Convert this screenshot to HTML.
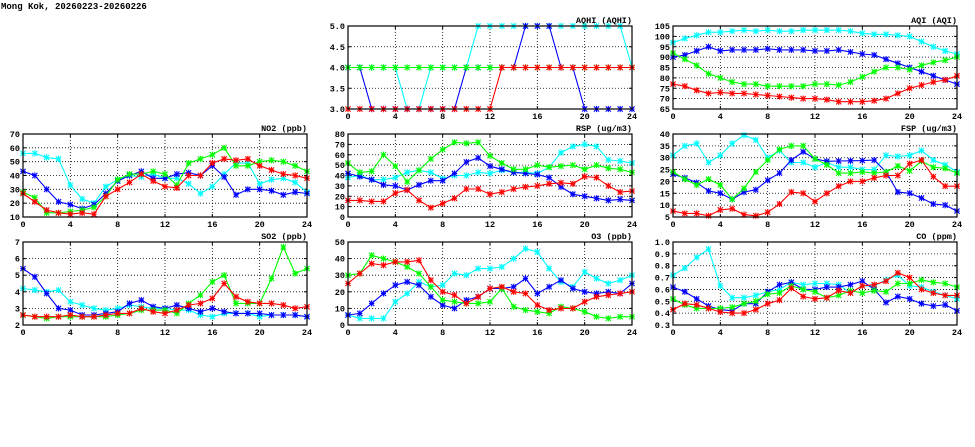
<!DOCTYPE html>
<html><head><meta charset="utf-8">
<style>
html,body{margin:0;padding:0;background:#fff;}
svg{display:block;}
text{font-family:"Liberation Mono",monospace;}
</style></head>
<body>
<svg id="s" width="975" height="447" xmlns="http://www.w3.org/2000/svg">
<text x="1" y="9" font-size="9" font-weight="bold" fill="#000">Mong Kok, 20260223-20260226</text>
</svg>
<script>
var S=document.getElementById('s');
var NS='http://www.w3.org/2000/svg';
function el(t,a,txt){var e=document.createElementNS(NS,t);for(var k in a)e.setAttribute(k,a[k]);if(txt!=null)e.textContent=txt;S.appendChild(e);return e;}
var C=['#00ffff','#0000ff','#00ff00','#ff0000'];
var panels=[
{x:348,y:26,w:284,h:83,min:3,max:5,step:0.5,dec:1,title:'AQHI (AQHI)',d:[
[4,4,4,4,4,3,3,4,4,4,4,5,5,5,5,5,5,5,5,5,5,5,5,5,4],
[4,4,3,3,3,3,3,3,3,3,4,4,4,4,4,5,5,5,4,4,3,3,3,3,3],
[4,4,4,4,4,4,4,4,4,4,4,4,4,4,4,4,4,4,4,4,4,4,4,4,4],
[3,3,3,3,3,3,3,3,3,3,3,3,3,4,4,4,4,4,4,4,4,4,4,4,4]]},
{x:673,y:26,w:284,h:83,min:65,max:105,step:5,dec:0,title:'AQI (AQI)',d:[
[97,99,100.5,102,102,102.5,103,102.5,103,102.5,102.5,103,103,103,103,102.5,101.5,101,101,100.5,100,97.5,95,93,91.5],
[90,91,93,95,93,93.5,93.5,93.5,94,93.5,93.5,93.5,93,93,93.5,92.5,91.5,91,89,87,85,83,81,79,77],
[92,89,86,82,80,78,77,77,76,76,76,76,77,77,76.5,78,80.5,83,85,85,84,86,87.5,88.5,90],
[77,76,74,72.5,73,72.5,72.5,72,71.5,71,70.5,70,70,69.5,68.5,68.5,68.5,69,70,72.5,75,76.5,78,79,81]]},
{x:23,y:134,w:284,h:83,min:10,max:70,step:10,dec:0,title:'NO2 (ppb)',d:[
[56,56,53,52,33,23,20,32,37,40,39,41,38,38,34,27,32,41,49,49,34,37,38,35,28],
[43,40,30,21,19,16,19,27,36,40,43,38,38,41,42,40,47,39,26,30,30,29,26,28,27],
[28,24,13,13,14,15,17,25,37,41,41,43,41,33,49,52,55,60,47,47,50,51,50,47,43],
[27,21,15,13,12,13,12,25,30,35,41,36,32,31,40,40,49,52,51,52,47,44,41,40,38]]},
{x:348,y:134,w:284,h:83,min:0,max:80,step:10,dec:0,title:'RSP (ug/m3)',d:[
[38,40,36,36,38,43,45,43,37,40,40,43,42,45,43,43,42,48,62,68,70,68,55,54,52],
[42,39,36,31,30,26,31,35,35,42,53,57,49,46,43,42,41,38,29,22,20,18,16,17,16],
[52,43,44,60,49,34,45,56,65,72,71,72,59,52,46,46,50,48,49,50,46,50,47,46,43],
[16,16,15,15,23,26,16,9,13,18,27,27,22,24,27,29,30,32,33,32,39,38,30,24,25]]},
{x:673,y:134,w:284,h:83,min:5,max:40,step:5,dec:0,title:'FSP (ug/m3)',d:[
[31,35,36,28,31,36,39.5,37.5,30,33,28,28,26,28,26,26,25,25,31,30.5,31,33,29,27,24],
[23,21.5,19.5,16,15,12.5,15.5,16.5,20.5,23.5,29,32.5,29.5,28.5,28.6,28.7,28.8,29,24,15.5,15,13,10.5,10,7.5],
[24,21,18.5,21,18.5,12.5,17,24,29,33.5,35,35,29.5,27,23.5,23.5,24,23.5,24,26.5,24.5,28.5,26,25.5,23.5],
[7.5,6.5,6.5,5.5,8,8.5,6,5.5,7,10.5,15.5,15,11.5,15,18,20,20,21.5,22.5,22.5,27.5,29,22,18,18]]},
{x:23,y:242,w:284,h:83,min:2,max:7,step:1,dec:0,title:'SO2 (ppb)',d:[
[4.2,4.1,4.0,4.1,3.4,3.2,3.0,2.9,3.0,3.2,3.1,3.0,3.0,2.9,2.9,2.6,2.5,2.7,2.7,2.7,2.5,2.6,2.6,2.6,2.5],
[5.4,4.9,3.9,3.0,2.9,2.6,2.6,2.7,2.8,3.3,3.5,3.1,3.0,3.2,3.0,2.8,3.0,2.8,2.7,2.7,2.7,2.6,2.6,2.6,2.5],
[2.6,2.5,2.4,2.5,2.5,2.5,2.5,2.5,2.6,2.7,2.9,2.9,2.9,2.7,3.3,3.8,4.6,5.0,3.3,3.3,3.3,4.8,6.7,5.1,5.4],
[2.6,2.5,2.5,2.5,2.6,2.5,2.5,2.6,2.7,2.7,3.0,2.8,2.7,2.9,3.2,3.3,3.6,4.5,3.7,3.4,3.3,3.3,3.2,3.0,3.1]]},
{x:348,y:242,w:284,h:83,min:0,max:50,step:10,dec:0,title:'O3 (ppb)',d:[
[6,4,4,4,14,19,26,23,24,31,30,34,34,35,40,46,44,34,26,23,32,28,25,27,30],
[6,7,13,19,24,26,24,17,12,10,15,17,22,22,23,28,19,23,27,22,20,19,20,19,25],
[30,31,42,40,38,35,31,23,15,14,13,13,14,22,11,9,8,7,11,10,8,5,4,5,5],
[25,31,37,36,38,38,39,27,20,18,13,17,22,23,20,19,12,9,10,10,14,17,18,19,20]]},
{x:673,y:242,w:284,h:83,min:0.3,max:1.0,step:0.1,dec:1,title:'CO (ppm)',d:[
[0.72,0.78,0.87,0.94,0.63,0.53,0.53,0.55,0.58,0.60,0.66,0.64,0.65,0.65,0.64,0.57,0.63,0.63,0.68,0.72,0.63,0.62,0.58,0.55,0.52],
[0.62,0.58,0.52,0.46,0.43,0.42,0.48,0.48,0.58,0.64,0.66,0.60,0.60,0.62,0.62,0.64,0.67,0.60,0.49,0.54,0.52,0.48,0.46,0.47,0.42],
[0.52,0.47,0.44,0.44,0.44,0.45,0.48,0.50,0.56,0.57,0.63,0.60,0.58,0.53,0.55,0.59,0.57,0.59,0.58,0.65,0.65,0.68,0.66,0.65,0.62],
[0.43,0.48,0.47,0.44,0.41,0.40,0.40,0.43,0.48,0.51,0.61,0.54,0.52,0.53,0.59,0.57,0.63,0.64,0.67,0.74,0.70,0.60,0.57,0.55,0.55]]}
];
panels.forEach(function(p){
  var n=Math.round((p.max-p.min)/p.step);
  function Y(v){return p.y+p.h-(v-p.min)/(p.max-p.min)*p.h;}
  function X(i){return p.x+i/24*p.w;}
  for(var k=1;k<n;k++){var yy=Y(p.min+k*p.step);el('line',{x1:p.x,x2:p.x+p.w,y1:yy,y2:yy,stroke:'#000','stroke-width':0.8,'stroke-dasharray':'1,2'});}
  for(var h=4;h<24;h+=4){var xx=X(h);el('line',{x1:xx,x2:xx,y1:p.y,y2:p.y+p.h,stroke:'#000','stroke-width':0.8,'stroke-dasharray':'1,2'});}
  for(var k=0;k<=n;k++){var v=p.min+k*p.step;var yy=Y(v);
    el('line',{x1:p.x,x2:p.x+3,y1:yy,y2:yy,stroke:'#000','stroke-width':1});
    el('line',{x1:p.x+p.w-3,x2:p.x+p.w,y1:yy,y2:yy,stroke:'#000','stroke-width':1});
    el('text',{x:p.x-3,y:yy+3,'font-size':8.5,'font-weight':'bold','text-anchor':'end',fill:'#000'},v.toFixed(p.dec));}
  for(var h=0;h<=24;h+=4){var xx=X(h);
    el('line',{x1:xx,x2:xx,y1:p.y+p.h,y2:p.y+p.h-3,stroke:'#000','stroke-width':1});
    el('line',{x1:xx,x2:xx,y1:p.y,y2:p.y+3,stroke:'#000','stroke-width':1});
    el('text',{x:xx,y:p.y+p.h+10,'font-size':8.5,'font-weight':'bold','text-anchor':'middle',fill:'#000'},String(h));}
  el('text',{x:p.x+p.w,y:p.y-3,'font-size':8.5,'font-weight':'bold','text-anchor':'end',fill:'#000'},p.title);
  p.d.forEach(function(arr,si){
    var pts=arr.map(function(v,i){return X(i).toFixed(1)+','+Y(v).toFixed(1);}).join(' ');
    el('polyline',{points:pts,fill:'none',stroke:C[si],'stroke-width':1.1});
    arr.forEach(function(v,i){var x=X(i),y=Y(v),r=2.6;
      el('path',{d:'M'+(x-r)+' '+(y-r)+'L'+(x+r)+' '+(y+r)+'M'+(x-r)+' '+(y+r)+'L'+(x+r)+' '+(y-r)+'M'+x+' '+(y-r-0.5)+'L'+x+' '+(y+r+0.5)+'M'+(x-r)+' '+y+'L'+(x+r)+' '+y,stroke:C[si],'stroke-width':1.1,fill:'none'});
    });
  });
  el('rect',{x:p.x,y:p.y,width:p.w,height:p.h,fill:'none',stroke:'#000','stroke-width':1.2});
});
</script>
</body></html>
